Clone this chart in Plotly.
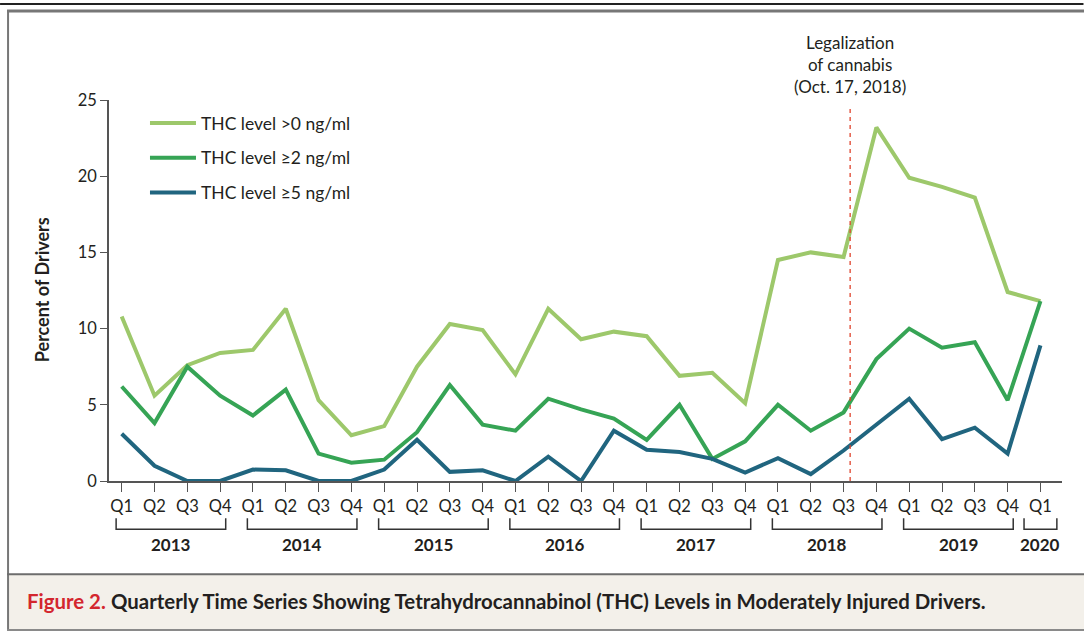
import plotly.graph_objects as go

# ---------------- data ----------------
years = ["2013", "2014", "2015", "2016", "2017", "2018", "2019", "2020"]
quarters_per_year = [4, 4, 4, 4, 4, 4, 4, 1]
quarter_names = ["Q1", "Q2", "Q3", "Q4"]

series_names = ["THC level >0 ng/ml", "THC level \u22652 ng/ml", "THC level \u22655 ng/ml"]
series_colors = ["#9dc86b", "#36a455", "#20657f"]

thc_gt0 = [10.8, 5.6, 7.6, 8.4, 8.6, 11.3, 5.3, 3.0,
           3.6, 7.5, 10.3, 9.9, 7.0, 11.3, 9.3, 9.8,
           9.5, 6.9, 7.1, 5.1, 14.5, 15.0, 14.7, 23.2,
           19.9, 19.3, 18.6, 12.4, 11.8]
thc_ge2 = [6.2, 3.8, 7.5, 5.6, 4.3, 6.0, 1.8, 1.2,
           1.4, 3.2, 6.3, 3.7, 3.3, 5.4, 4.7, 4.1,
           2.7, 5.0, 1.45, 2.6, 5.0, 3.3, 4.5, 8.0,
           10.0, 8.75, 9.1, 5.3, 11.8]
thc_ge5 = [3.1, 1.0, 0.0, 0.0, 0.75, 0.7, 0.0, 0.0,
           0.75, 2.7, 0.6, 0.7, 0.0, 1.6, 0.0, 3.3,
           2.05, 1.9, 1.45, 0.55, 1.5, 0.45, 2.0, 3.7,
           5.4, 2.75, 3.5, 1.8, 8.9]
series_values = [thc_gt0, thc_ge2, thc_ge5]

y_ticks = [0, 5, 10, 15, 20, 25]
y_title = "Percent of Drivers"
legalization_label = "Legalization<br>of cannabis<br>(Oct. 17, 2018)"
legalization_pos = 22.2  # position on the quarter axis
caption_label = "Figure 2."
caption_text = "Quarterly Time Series Showing Tetrahydrocannabinol (THC) Levels in Moderately Injured Drivers."

# ---------------- derived ----------------
tick_text = []
year_spans = []
idx = 0
for yr, n in zip(years, quarters_per_year):
    year_spans.append((yr, idx, idx + n - 1))
    tick_text += quarter_names[:n]
    idx += n
x_idx = list(range(len(tick_text)))

W, H = 1084, 631
ML, MR, MT, MB = 109, 21.5, 100, 150.3
PW, PH = W - ML - MR, H - MT - MB


def px(xp):
    return (xp - ML) / PW


def py(yp):
    return (H - MB - yp) / PH


TXT = "#231f20"
AX = "#555555"
FONT = "Lato"

fig = go.Figure()
for name, vals, col in zip(series_names, series_values, series_colors):
    fig.add_trace(go.Scatter(
        x=x_idx, y=vals, mode="lines", name=name, legendgroup=name,
        line=dict(color=col, width=4, shape="linear"),
        hoverinfo="skip"))

shapes = []
annotations = []

# outer frame lines
shapes.append(dict(type="line", xref="paper", yref="paper", x0=px(0), x1=px(W), y0=py(4), y1=py(4),
                   line=dict(color="#222222", width=2)))
shapes.append(dict(type="line", xref="paper", yref="paper", x0=px(7), x1=px(W + 5), y0=py(11), y1=py(11),
                   line=dict(color="#777777", width=3)))
shapes.append(dict(type="line", xref="paper", yref="paper", x0=px(8), x1=px(8), y0=py(10), y1=py(630),
                   line=dict(color="#777777", width=2)))
# caption box
shapes.append(dict(type="rect", xref="paper", yref="paper", x0=px(8), x1=px(W + 5), y0=py(574), y1=py(629.5),
                   fillcolor="#f3f0ea", line=dict(width=0), layer="below"))
shapes.append(dict(type="line", xref="paper", yref="paper", x0=px(7), x1=px(W + 5), y0=py(574), y1=py(574),
                   line=dict(color="#6d6d6d", width=2)))
shapes.append(dict(type="line", xref="paper", yref="paper", x0=px(7), x1=px(W + 5), y0=py(629.5), y1=py(629.5),
                   line=dict(color="#8a8a8a", width=2)))

# legalization dashed line
shapes.append(dict(type="line", xref="x", yref="y", x0=legalization_pos, x1=legalization_pos, y0=0, y1=24.5,
                   line=dict(color="#e0452e", width=1.3, dash="4px,4px")))
annotations.append(dict(xref="x", yref="paper", x=legalization_pos, y=py(64.5), text=legalization_label,
                        showarrow=False, xanchor="center", yanchor="middle", align="center",
                        font=dict(family=FONT, size=17, color=TXT)))

# year brackets (x on the quarter axis, y in paper units below the plot)
for yr, i0, i1 in year_spans:
    pad = 0.5 if i0 == i1 else 0.17
    x0, x1 = i0 - pad, i1 + pad
    shapes.append(dict(type="path", xref="x", yref="paper",
                       path=f"M{x0},{py(518)} L{x0},{py(529)} L{x1},{py(529)} L{x1},{py(518)}",
                       line=dict(color="#333333", width=1.5)))
    annotations.append(dict(xref="x", yref="paper", x=(i0 + i1) / 2, y=py(544), text=f"<b>{yr}</b>",
                            showarrow=False, xanchor="center", yanchor="middle",
                            font=dict(family=FONT, size=17, color=TXT)))

# y axis title
annotations.append(dict(xref="paper", yref="paper", x=px(42), y=py(290), text=f"<b>{y_title}</b>",
                        textangle=-90, showarrow=False, xanchor="center", yanchor="middle",
                        font=dict(family=FONT, size=18, color=TXT)))
# caption
annotations.append(dict(xref="paper", yref="paper", x=px(25), y=py(601),
                        text=f"<span style='color:#d3262e'><b>{caption_label}</b></span> <b>{caption_text}</b>",
                        showarrow=False, xanchor="left", yanchor="middle",
                        font=dict(family=FONT, size=20.4, color=TXT)))

fig.update_layout(
    width=W, height=H,
    margin=dict(l=ML, r=MR, t=MT, b=MB, autoexpand=False),
    paper_bgcolor="white", plot_bgcolor="white",
    showlegend=True,
    legend=dict(x=px(145), y=py(105), xanchor="left", yanchor="top",
                font=dict(family=FONT, size=17.5, color=TXT),
                bgcolor="rgba(0,0,0,0)", traceorder="grouped", tracegroupgap=9,
                itemwidth=46),
    shapes=shapes, annotations=annotations,
    xaxis=dict(range=[(ML - 121.7) / 32.83, (W - MR - 121.7) / 32.83],
               tickmode="array", tickvals=x_idx, ticktext=tick_text,
               showline=True, linecolor=AX, linewidth=1.5,
               ticks="outside", ticklen=9, tickwidth=1.3, tickcolor=AX,
               tickfont=dict(family=FONT, size=16.5, color=TXT),
               showgrid=False, zeroline=False, fixedrange=True),
    yaxis=dict(range=[0, 25], tickmode="array", tickvals=y_ticks,
               showline=True, linecolor=AX, linewidth=1.5,
               ticks="outside", ticklen=7, tickwidth=1.3, tickcolor=AX,
               tickfont=dict(family=FONT, size=16.5, color=TXT),
               showgrid=False, zeroline=False, fixedrange=True),
)

fig.write_html("out.html", config={"displayModeBar": False},
               post_script="document.body.style.margin='0';document.body.style.overflow='hidden';")
